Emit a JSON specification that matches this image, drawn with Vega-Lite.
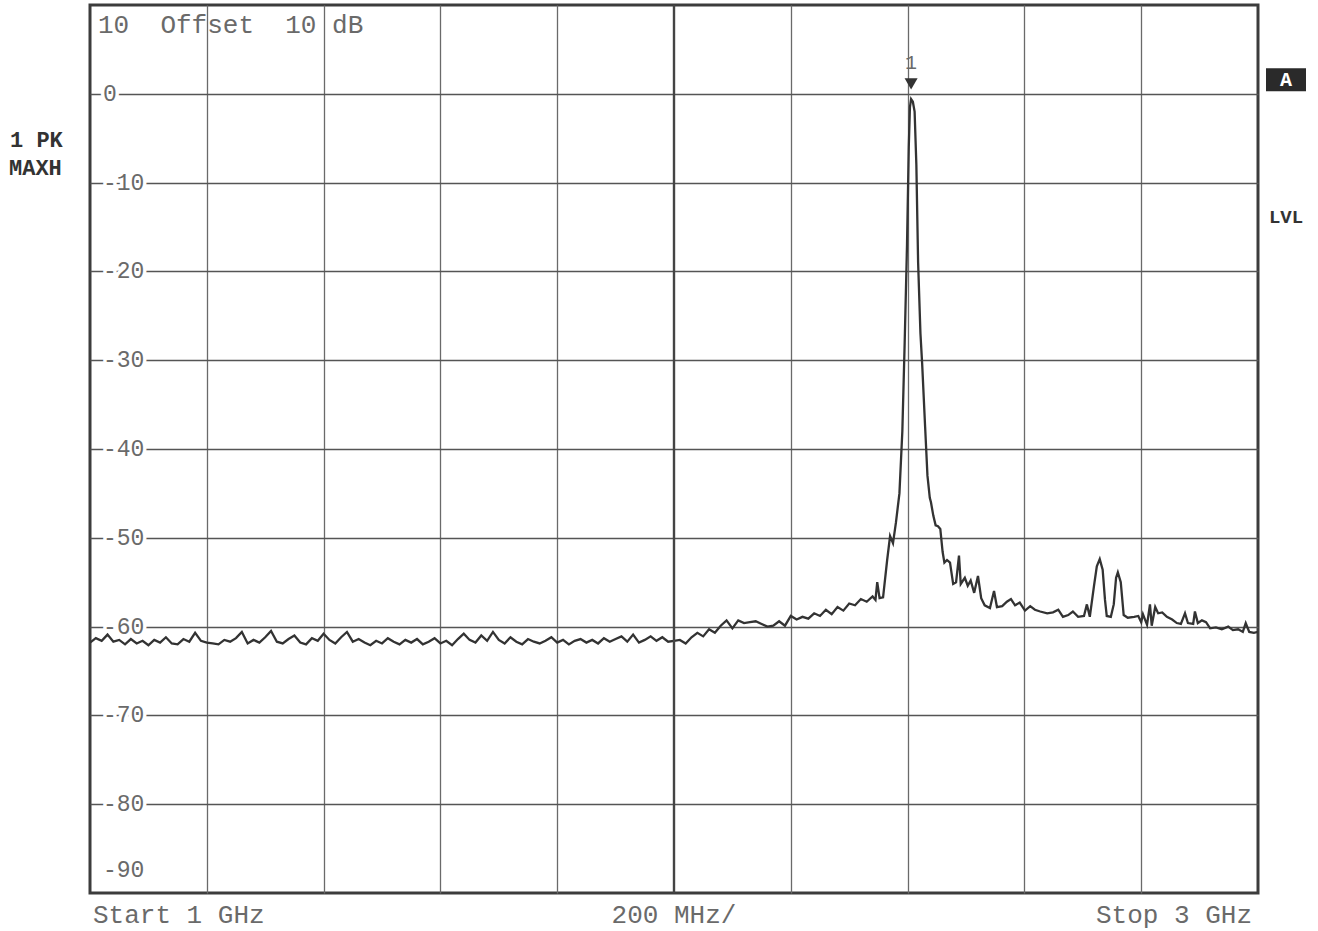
{
  "$schema": "https://vega.github.io/schema/vega-lite/v6.json",
  "width": 1168,
  "height": 888,
  "autosize": {"type": "none"},
  "padding": {"left": 90, "top": 5, "right": 60, "bottom": 38},
  "background": "white",
  "config": {
    "view": {"stroke": "#3c3c3c", "strokeWidth": 3},
    "text": {"font": "Liberation Mono", "color": "#6a6a6a"}
  },
  "layer": [
    {
      "data": {
        "values": [
          {"freq_ghz": 1.00, "level_db": -61.8}, {"freq_ghz": 1.01, "level_db": -61.3}, {"freq_ghz": 1.02, "level_db": -61.6},
          {"freq_ghz": 1.03, "level_db": -60.9}, {"freq_ghz": 1.04, "level_db": -61.7}, {"freq_ghz": 1.05, "level_db": -61.5},
          {"freq_ghz": 1.06, "level_db": -62.0}, {"freq_ghz": 1.07, "level_db": -61.4}, {"freq_ghz": 1.08, "level_db": -61.9},
          {"freq_ghz": 1.09, "level_db": -61.6}, {"freq_ghz": 1.10, "level_db": -62.1}, {"freq_ghz": 1.11, "level_db": -61.5},
          {"freq_ghz": 1.12, "level_db": -61.8}, {"freq_ghz": 1.13, "level_db": -61.2}, {"freq_ghz": 1.14, "level_db": -61.9},
          {"freq_ghz": 1.15, "level_db": -62.0}, {"freq_ghz": 1.16, "level_db": -61.4}, {"freq_ghz": 1.17, "level_db": -61.7},
          {"freq_ghz": 1.18, "level_db": -60.7}, {"freq_ghz": 1.19, "level_db": -61.6}, {"freq_ghz": 1.20, "level_db": -61.8},
          {"freq_ghz": 1.21, "level_db": -61.9}, {"freq_ghz": 1.22, "level_db": -62.0}, {"freq_ghz": 1.23, "level_db": -61.5},
          {"freq_ghz": 1.24, "level_db": -61.7}, {"freq_ghz": 1.25, "level_db": -61.3}, {"freq_ghz": 1.26, "level_db": -60.6},
          {"freq_ghz": 1.27, "level_db": -61.9}, {"freq_ghz": 1.28, "level_db": -61.5}, {"freq_ghz": 1.29, "level_db": -61.8},
          {"freq_ghz": 1.30, "level_db": -61.2}, {"freq_ghz": 1.31, "level_db": -60.5}, {"freq_ghz": 1.32, "level_db": -61.7},
          {"freq_ghz": 1.33, "level_db": -61.9}, {"freq_ghz": 1.34, "level_db": -61.4}, {"freq_ghz": 1.35, "level_db": -61.0},
          {"freq_ghz": 1.36, "level_db": -61.8}, {"freq_ghz": 1.37, "level_db": -62.0}, {"freq_ghz": 1.38, "level_db": -61.3},
          {"freq_ghz": 1.39, "level_db": -61.6}, {"freq_ghz": 1.40, "level_db": -60.8}, {"freq_ghz": 1.41, "level_db": -61.5},
          {"freq_ghz": 1.42, "level_db": -61.9}, {"freq_ghz": 1.43, "level_db": -61.2}, {"freq_ghz": 1.44, "level_db": -60.6},
          {"freq_ghz": 1.45, "level_db": -61.7}, {"freq_ghz": 1.46, "level_db": -61.4}, {"freq_ghz": 1.47, "level_db": -61.8},
          {"freq_ghz": 1.48, "level_db": -62.1}, {"freq_ghz": 1.49, "level_db": -61.6}, {"freq_ghz": 1.50, "level_db": -61.9},
          {"freq_ghz": 1.51, "level_db": -61.3}, {"freq_ghz": 1.52, "level_db": -61.7}, {"freq_ghz": 1.53, "level_db": -62.0},
          {"freq_ghz": 1.54, "level_db": -61.5}, {"freq_ghz": 1.55, "level_db": -61.8}, {"freq_ghz": 1.56, "level_db": -61.4},
          {"freq_ghz": 1.57, "level_db": -62.0}, {"freq_ghz": 1.58, "level_db": -61.7}, {"freq_ghz": 1.59, "level_db": -61.3},
          {"freq_ghz": 1.60, "level_db": -61.9}, {"freq_ghz": 1.61, "level_db": -61.6}, {"freq_ghz": 1.62, "level_db": -62.1},
          {"freq_ghz": 1.63, "level_db": -61.4}, {"freq_ghz": 1.64, "level_db": -60.8}, {"freq_ghz": 1.65, "level_db": -61.5},
          {"freq_ghz": 1.66, "level_db": -61.8}, {"freq_ghz": 1.67, "level_db": -61.0}, {"freq_ghz": 1.68, "level_db": -61.6},
          {"freq_ghz": 1.69, "level_db": -60.6}, {"freq_ghz": 1.70, "level_db": -61.5}, {"freq_ghz": 1.71, "level_db": -61.9},
          {"freq_ghz": 1.72, "level_db": -61.2}, {"freq_ghz": 1.73, "level_db": -61.7}, {"freq_ghz": 1.74, "level_db": -62.0},
          {"freq_ghz": 1.75, "level_db": -61.4}, {"freq_ghz": 1.76, "level_db": -61.7}, {"freq_ghz": 1.77, "level_db": -61.9},
          {"freq_ghz": 1.78, "level_db": -61.6}, {"freq_ghz": 1.79, "level_db": -61.2}, {"freq_ghz": 1.80, "level_db": -61.8},
          {"freq_ghz": 1.81, "level_db": -61.5}, {"freq_ghz": 1.82, "level_db": -62.0}, {"freq_ghz": 1.83, "level_db": -61.6},
          {"freq_ghz": 1.84, "level_db": -61.4}, {"freq_ghz": 1.85, "level_db": -61.8}, {"freq_ghz": 1.86, "level_db": -61.5},
          {"freq_ghz": 1.87, "level_db": -61.9}, {"freq_ghz": 1.88, "level_db": -61.3}, {"freq_ghz": 1.89, "level_db": -61.7},
          {"freq_ghz": 1.90, "level_db": -61.4}, {"freq_ghz": 1.91, "level_db": -61.1}, {"freq_ghz": 1.92, "level_db": -61.7},
          {"freq_ghz": 1.93, "level_db": -60.9}, {"freq_ghz": 1.94, "level_db": -61.8}, {"freq_ghz": 1.95, "level_db": -61.5},
          {"freq_ghz": 1.96, "level_db": -61.1}, {"freq_ghz": 1.97, "level_db": -61.6}, {"freq_ghz": 1.98, "level_db": -61.2},
          {"freq_ghz": 1.99, "level_db": -61.7},
          {"freq_ghz": 2.00, "level_db": -61.6}, {"freq_ghz": 2.01, "level_db": -61.5}, {"freq_ghz": 2.02, "level_db": -61.9},
          {"freq_ghz": 2.03, "level_db": -61.2}, {"freq_ghz": 2.04, "level_db": -60.7}, {"freq_ghz": 2.05, "level_db": -61.1},
          {"freq_ghz": 2.06, "level_db": -60.3}, {"freq_ghz": 2.07, "level_db": -60.7}, {"freq_ghz": 2.08, "level_db": -59.9},
          {"freq_ghz": 2.09, "level_db": -59.3}, {"freq_ghz": 2.10, "level_db": -60.2}, {"freq_ghz": 2.11, "level_db": -59.3},
          {"freq_ghz": 2.12, "level_db": -59.6}, {"freq_ghz": 2.13, "level_db": -59.5}, {"freq_ghz": 2.14, "level_db": -59.4},
          {"freq_ghz": 2.15, "level_db": -59.7}, {"freq_ghz": 2.16, "level_db": -60.0}, {"freq_ghz": 2.17, "level_db": -59.9},
          {"freq_ghz": 2.18, "level_db": -59.4}, {"freq_ghz": 2.19, "level_db": -59.9}, {"freq_ghz": 2.20, "level_db": -58.8},
          {"freq_ghz": 2.21, "level_db": -59.2}, {"freq_ghz": 2.22, "level_db": -58.9}, {"freq_ghz": 2.23, "level_db": -59.1},
          {"freq_ghz": 2.24, "level_db": -58.5}, {"freq_ghz": 2.25, "level_db": -58.8}, {"freq_ghz": 2.26, "level_db": -58.1},
          {"freq_ghz": 2.27, "level_db": -58.6}, {"freq_ghz": 2.28, "level_db": -57.8}, {"freq_ghz": 2.29, "level_db": -58.2},
          {"freq_ghz": 2.30, "level_db": -57.4}, {"freq_ghz": 2.31, "level_db": -57.6}, {"freq_ghz": 2.32, "level_db": -56.9},
          {"freq_ghz": 2.33, "level_db": -57.2}, {"freq_ghz": 2.34, "level_db": -56.6}, {"freq_ghz": 2.345, "level_db": -57.0},
          {"freq_ghz": 2.348, "level_db": -55.0}, {"freq_ghz": 2.352, "level_db": -56.8}, {"freq_ghz": 2.358, "level_db": -56.7},
          {"freq_ghz": 2.365, "level_db": -52.5}, {"freq_ghz": 2.370, "level_db": -49.8}, {"freq_ghz": 2.375, "level_db": -50.6},
          {"freq_ghz": 2.380, "level_db": -48.3}, {"freq_ghz": 2.386, "level_db": -45.0}, {"freq_ghz": 2.391, "level_db": -38.0},
          {"freq_ghz": 2.395, "level_db": -28.0}, {"freq_ghz": 2.399, "level_db": -17.0}, {"freq_ghz": 2.402, "level_db": -6.0},
          {"freq_ghz": 2.404, "level_db": -1.5}, {"freq_ghz": 2.406, "level_db": -0.6}, {"freq_ghz": 2.409, "level_db": -0.9},
          {"freq_ghz": 2.412, "level_db": -2.0}, {"freq_ghz": 2.415, "level_db": -8.0}, {"freq_ghz": 2.418, "level_db": -19.0},
          {"freq_ghz": 2.422, "level_db": -27.0}, {"freq_ghz": 2.425, "level_db": -30.5}, {"freq_ghz": 2.430, "level_db": -37.5},
          {"freq_ghz": 2.434, "level_db": -43.0}, {"freq_ghz": 2.438, "level_db": -45.5}, {"freq_ghz": 2.440, "level_db": -46.0},
          {"freq_ghz": 2.444, "level_db": -47.5}, {"freq_ghz": 2.448, "level_db": -48.6}, {"freq_ghz": 2.452, "level_db": -48.7},
          {"freq_ghz": 2.456, "level_db": -49.0}, {"freq_ghz": 2.460, "level_db": -51.6}, {"freq_ghz": 2.463, "level_db": -52.8},
          {"freq_ghz": 2.4675, "level_db": -52.5}, {"freq_ghz": 2.4726, "level_db": -52.8}, {"freq_ghz": 2.478, "level_db": -55.2},
          {"freq_ghz": 2.483, "level_db": -55.0}, {"freq_ghz": 2.488, "level_db": -52.0}, {"freq_ghz": 2.491, "level_db": -55.2},
          {"freq_ghz": 2.498, "level_db": -54.5}, {"freq_ghz": 2.503, "level_db": -55.4}, {"freq_ghz": 2.508, "level_db": -54.8},
          {"freq_ghz": 2.514, "level_db": -56.2}, {"freq_ghz": 2.5205, "level_db": -54.3}, {"freq_ghz": 2.526, "level_db": -56.8},
          {"freq_ghz": 2.532, "level_db": -57.6}, {"freq_ghz": 2.541, "level_db": -57.9}, {"freq_ghz": 2.548, "level_db": -56.0},
          {"freq_ghz": 2.553, "level_db": -57.8}, {"freq_ghz": 2.562, "level_db": -57.7}, {"freq_ghz": 2.570, "level_db": -57.2},
          {"freq_ghz": 2.577, "level_db": -56.9}, {"freq_ghz": 2.584, "level_db": -57.6}, {"freq_ghz": 2.592, "level_db": -57.3},
          {"freq_ghz": 2.601, "level_db": -58.2}, {"freq_ghz": 2.610, "level_db": -57.7}, {"freq_ghz": 2.618, "level_db": -58.1},
          {"freq_ghz": 2.627, "level_db": -58.3}, {"freq_ghz": 2.639, "level_db": -58.5}, {"freq_ghz": 2.649, "level_db": -58.4},
          {"freq_ghz": 2.658, "level_db": -58.1}, {"freq_ghz": 2.666, "level_db": -58.9}, {"freq_ghz": 2.675, "level_db": -58.7},
          {"freq_ghz": 2.683, "level_db": -58.3}, {"freq_ghz": 2.692, "level_db": -58.9}, {"freq_ghz": 2.702, "level_db": -58.8},
          {"freq_ghz": 2.707, "level_db": -57.5}, {"freq_ghz": 2.712, "level_db": -58.9}, {"freq_ghz": 2.719, "level_db": -55.5},
          {"freq_ghz": 2.724, "level_db": -53.2}, {"freq_ghz": 2.729, "level_db": -52.4}, {"freq_ghz": 2.734, "level_db": -53.6},
          {"freq_ghz": 2.738, "level_db": -57.0}, {"freq_ghz": 2.741, "level_db": -58.8}, {"freq_ghz": 2.748, "level_db": -58.9},
          {"freq_ghz": 2.753, "level_db": -57.5}, {"freq_ghz": 2.757, "level_db": -54.5}, {"freq_ghz": 2.760, "level_db": -53.9},
          {"freq_ghz": 2.765, "level_db": -55.0}, {"freq_ghz": 2.770, "level_db": -58.7}, {"freq_ghz": 2.777, "level_db": -59.0},
          {"freq_ghz": 2.788, "level_db": -58.9}, {"freq_ghz": 2.795, "level_db": -58.8}, {"freq_ghz": 2.800, "level_db": -59.5},
          {"freq_ghz": 2.803, "level_db": -58.6}, {"freq_ghz": 2.810, "level_db": -59.8}, {"freq_ghz": 2.815, "level_db": -57.5},
          {"freq_ghz": 2.818, "level_db": -59.9}, {"freq_ghz": 2.824, "level_db": -57.8}, {"freq_ghz": 2.829, "level_db": -58.5},
          {"freq_ghz": 2.836, "level_db": -58.4}, {"freq_ghz": 2.844, "level_db": -58.9}, {"freq_ghz": 2.853, "level_db": -59.2},
          {"freq_ghz": 2.861, "level_db": -59.6}, {"freq_ghz": 2.868, "level_db": -59.7}, {"freq_ghz": 2.875, "level_db": -58.5},
          {"freq_ghz": 2.880, "level_db": -59.6}, {"freq_ghz": 2.889, "level_db": -59.7}, {"freq_ghz": 2.892, "level_db": -58.3},
          {"freq_ghz": 2.897, "level_db": -59.6}, {"freq_ghz": 2.904, "level_db": -59.3}, {"freq_ghz": 2.911, "level_db": -59.5},
          {"freq_ghz": 2.918, "level_db": -60.2}, {"freq_ghz": 2.928, "level_db": -60.1}, {"freq_ghz": 2.938, "level_db": -60.3},
          {"freq_ghz": 2.949, "level_db": -60.0}, {"freq_ghz": 2.957, "level_db": -60.4}, {"freq_ghz": 2.966, "level_db": -60.3},
          {"freq_ghz": 2.974, "level_db": -60.6}, {"freq_ghz": 2.979, "level_db": -59.6}, {"freq_ghz": 2.985, "level_db": -60.6},
          {"freq_ghz": 2.993, "level_db": -60.7}, {"freq_ghz": 3.000, "level_db": -60.6}
        ]
      },
      "mark": {"type": "line", "color": "#333333", "strokeWidth": 2.3, "clip": true},
      "encoding": {
        "x": {
          "field": "freq_ghz",
          "type": "quantitative",
          "scale": {"domain": [1, 3], "nice": false, "zero": false},
          "axis": {
            "values": [1.2, 1.4, 1.6, 1.8, 2.2, 2.4, 2.6, 2.8],
            "grid": true, "gridColor": "#6a6a6a", "gridWidth": 1.3, "gridOpacity": 1,
            "labels": false, "ticks": false, "domain": false, "title": null
          }
        },
        "y": {
          "field": "level_db",
          "type": "quantitative",
          "scale": {"domain": [-90, 10], "nice": false, "zero": false},
          "axis": {
            "values": [-80, -70, -60, -50, -40, -30, -20, -10, 0],
            "grid": true, "gridColor": "#555555", "gridWidth": 1.6, "gridOpacity": 1,
            "labels": false, "ticks": false, "domain": false, "title": null
          }
        }
      }
    },
    {
      "data": {"values": [{}]},
      "mark": {"type": "rule", "color": "#444444", "strokeWidth": 2.4},
      "encoding": {"x": {"datum": 2, "type": "quantitative"}}
    },
    {
      "data": {
        "values": [
          {"level": 0, "label": "0"}, {"level": -10, "label": "-10"}, {"level": -20, "label": "-20"},
          {"level": -30, "label": "-30"}, {"level": -40, "label": "-40"}, {"level": -50, "label": "-50"},
          {"level": -60, "label": "-60"}, {"level": -70, "label": "-70"}, {"level": -80, "label": "-80"}
        ]
      },
      "layer": [
        {
          "mark": {"type": "text", "align": "left", "baseline": "middle", "fontSize": 23, "dx": 13, "fill": "white", "stroke": "white", "strokeWidth": 7}
        },
        {
          "mark": {"type": "text", "align": "left", "baseline": "middle", "fontSize": 23, "dx": 13}
        }
      ],
      "encoding": {
        "x": {"datum": 1, "type": "quantitative"},
        "y": {"field": "level", "type": "quantitative"},
        "text": {"field": "label"}
      }
    },
    {
      "data": {"values": [{}]},
      "layer": [
        {
          "mark": {"type": "text", "align": "left", "baseline": "middle", "fontSize": 23, "dx": 13, "dy": -23, "text": "-90"},
          "encoding": {"x": {"datum": 1, "type": "quantitative"}, "y": {"datum": -90, "type": "quantitative"}}
        },
        {
          "mark": {"type": "text", "align": "left", "baseline": "middle", "fontSize": 26, "dx": 8, "dy": 20, "text": "10\u00a0\u00a0Offset\u00a0\u00a010\u00a0dB"},
          "encoding": {"x": {"datum": 1, "type": "quantitative"}, "y": {"datum": 10, "type": "quantitative"}}
        },
        {
          "mark": {"type": "text", "align": "left", "baseline": "middle", "fontSize": 26, "dx": 3, "dy": 22, "text": "Start 1 GHz"},
          "encoding": {"x": {"datum": 1, "type": "quantitative"}, "y": {"datum": -90, "type": "quantitative"}}
        },
        {
          "mark": {"type": "text", "align": "center", "baseline": "middle", "fontSize": 26, "dy": 22, "text": "200 MHz/"},
          "encoding": {"x": {"datum": 2, "type": "quantitative"}, "y": {"datum": -90, "type": "quantitative"}}
        },
        {
          "mark": {"type": "text", "align": "right", "baseline": "middle", "fontSize": 26, "dx": -6, "dy": 22, "text": "Stop 3 GHz"},
          "encoding": {"x": {"datum": 3, "type": "quantitative"}, "y": {"datum": -90, "type": "quantitative"}}
        },
        {
          "mark": {"type": "text", "align": "left", "baseline": "middle", "fontSize": 22, "fontWeight": "bold", "color": "#333333", "dx": -80, "dy": 46, "text": "1 PK"},
          "encoding": {"x": {"datum": 1, "type": "quantitative"}, "y": {"datum": 0, "type": "quantitative"}}
        },
        {
          "mark": {"type": "text", "align": "left", "baseline": "middle", "fontSize": 22, "fontWeight": "bold", "color": "#333333", "dx": -81, "dy": 74, "text": "MAXH"},
          "encoding": {"x": {"datum": 1, "type": "quantitative"}, "y": {"datum": 0, "type": "quantitative"}}
        },
        {
          "mark": {"type": "point", "shape": "M-1,-0.575H1V0.575H-1Z", "size": 1600, "filled": true, "color": "#2a2a2a", "opacity": 1, "xOffset": 28, "yOffset": -14},
          "encoding": {"x": {"datum": 3, "type": "quantitative"}, "y": {"datum": 0, "type": "quantitative"}}
        },
        {
          "mark": {"type": "text", "align": "center", "baseline": "middle", "fontSize": 20, "fontWeight": "bold", "color": "white", "dx": 28, "dy": -14, "text": "A"},
          "encoding": {"x": {"datum": 3, "type": "quantitative"}, "y": {"datum": 0, "type": "quantitative"}}
        },
        {
          "mark": {"type": "text", "align": "center", "baseline": "middle", "fontSize": 19, "fontWeight": "bold", "color": "#333333", "dx": 28, "dy": 34, "text": "LVL"},
          "encoding": {"x": {"datum": 3, "type": "quantitative"}, "y": {"datum": -10, "type": "quantitative"}}
        },
        {
          "mark": {"type": "point", "shape": "triangle-down", "size": 170, "filled": true, "color": "#333333", "opacity": 1, "yOffset": -10},
          "encoding": {"x": {"datum": 2.406, "type": "quantitative"}, "y": {"datum": 0, "type": "quantitative"}}
        },
        {
          "mark": {"type": "text", "align": "center", "baseline": "middle", "fontSize": 20, "dy": -31, "text": "1"},
          "encoding": {"x": {"datum": 2.406, "type": "quantitative"}, "y": {"datum": 0, "type": "quantitative"}}
        }
      ]
    }
  ]
}
